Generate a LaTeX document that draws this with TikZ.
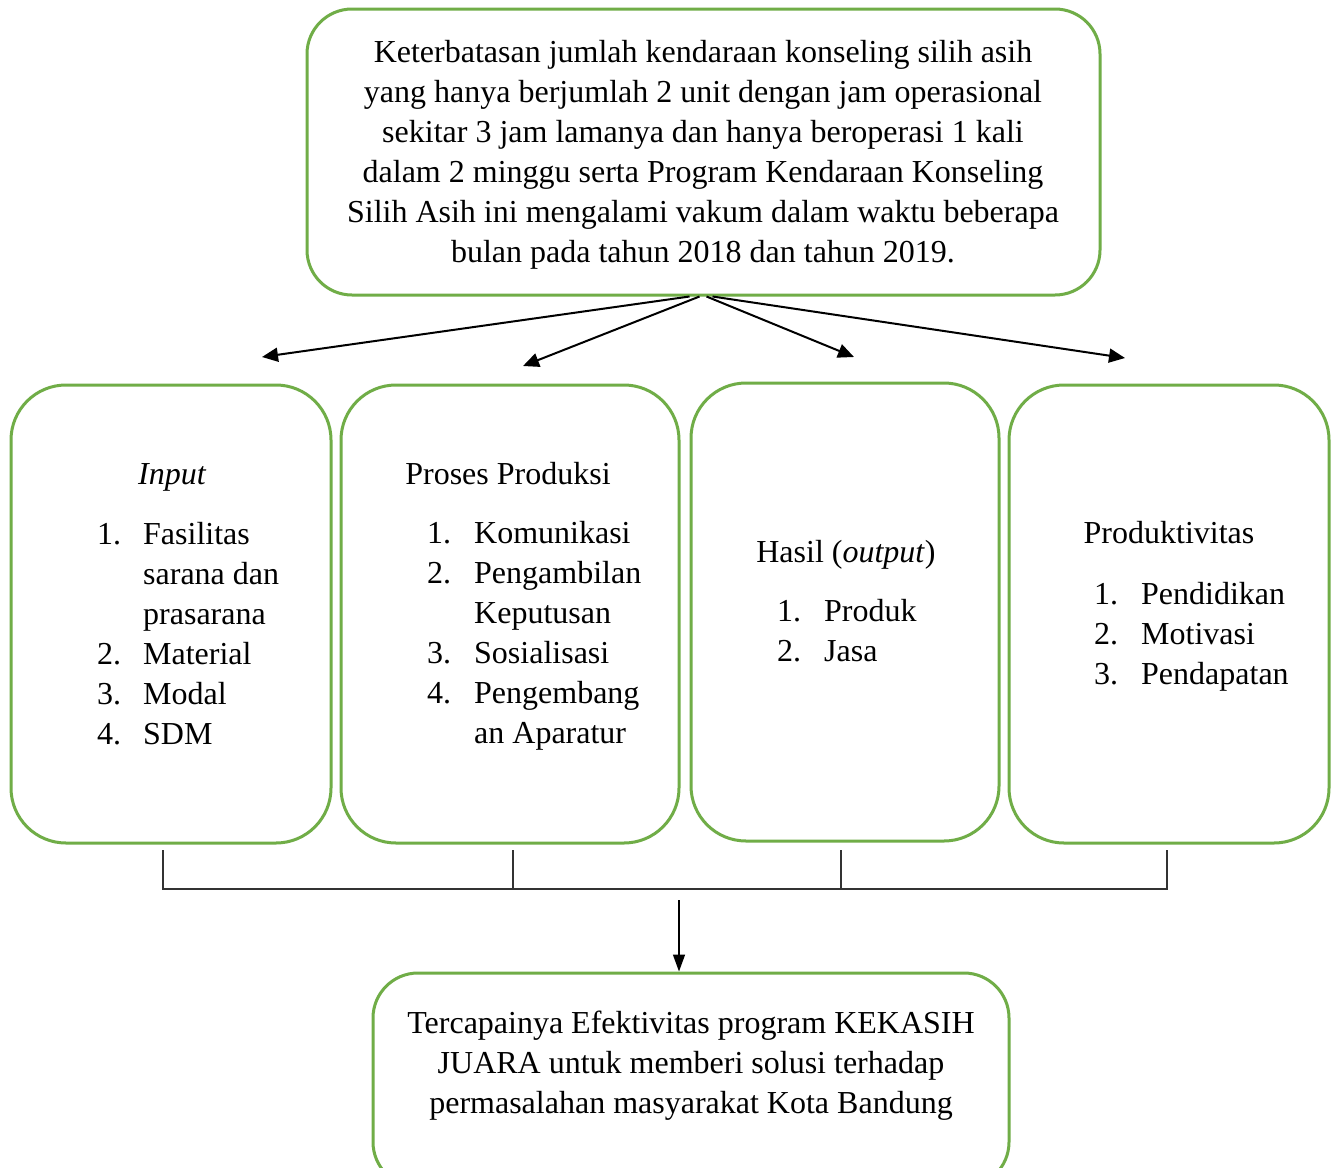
\documentclass[tikz,border=0pt]{standalone}
\usepackage{fontspec}
\setmainfont{Liberation Serif}
\usetikzlibrary{arrows.meta,calc}
\definecolor{grn}{HTML}{70AD47}
\begin{document}
\begin{tikzpicture}[x=1pt,y=-1pt,
  box/.style={draw=grn, line width=3pt, rounded corners=#1, inner sep=0pt},
  txt/.style={inner sep=0pt, font=\fontsize{32}{40}\selectfont},
  arr/.style={line width=2pt, -{Triangle[length=16pt,width=14pt]}},
  brk/.style={line width=1.2pt, draw=black!80},
  darr/.style={line width=1.5pt, -{Triangle[length=17pt,width=12pt]}}]
\useasboundingbox (0,0) rectangle (1335,1167);
\clip (0,0) rectangle (1335,1167);
\fill[white] (0,0) rectangle (1335,1167);

% boxes
\node[box=45pt, minimum width=793pt, minimum height=286pt] (top) at (703.5,152) {};
\node[box=55pt, minimum width=320pt, minimum height=458pt] (in) at (171,614) {};
\node[box=55pt, minimum width=338pt, minimum height=458pt] (pr) at (510,614) {};
\node[box=55pt, minimum width=308pt, minimum height=458pt] (ha) at (845,612) {};
\node[box=55pt, minimum width=320pt, minimum height=458pt] (pd) at (1169,614) {};
\node[box=45pt, minimum width=636pt, minimum height=214pt] (bot) at (691,1080) {};

% top text
\node[txt, align=center] (toptext) at (703,155) {Keterbatasan jumlah kendaraan konseling silih asih\\
yang hanya berjumlah 2 unit dengan jam operasional\\
sekitar 3 jam lamanya dan hanya beroperasi 1 kali\\
dalam 2 minggu serta Program Kendaraan Konseling\\
Silih Asih ini mengalami vakum dalam waktu beberapa\\
bulan pada tahun 2018 dan tahun 2019.};

% headings
\node[txt, anchor=base] (inh) at (172,484) {\itshape Input};
\node[txt, anchor=base] (prh) at (508,484) {Proses Produksi};
\node[txt, anchor=base] (hah) at (846,562) {Hasil (\textit{output})};
\node[txt, anchor=base] (pdh) at (1169,543) {Produktivitas};

% lists
\node[txt, anchor=base west] (inl) at (97,544) {\begin{tabular}[t]{@{}p{46pt}@{}l@{}}
1. & Fasilitas\\ & sarana dan\\ & prasarana\\ 2. & Material\\ 3. & Modal\\ 4. & SDM\end{tabular}};
\node[txt, anchor=base west] (prl) at (427,543) {\begin{tabular}[t]{@{}p{47pt}@{}l@{}}
1. & Komunikasi\\ 2. & Pengambilan\\ & Keputusan\\ 3. & Sosialisasi\\ 4. & Pengembang\\ & an Aparatur\end{tabular}};
\node[txt, anchor=base west] (hal) at (777,621) {\begin{tabular}[t]{@{}p{47pt}@{}l@{}}
1. & Produk\\ 2. & Jasa\end{tabular}};
\node[txt, anchor=base west] (pdl) at (1094,604) {\begin{tabular}[t]{@{}p{47pt}@{}l@{}}
1. & Pendidikan\\ 2. & Motivasi\\ 3. & Pendapatan\end{tabular}};

% bottom text
\node[txt, align=center] (bottext) at (691,1066) {Tercapainya Efektivitas program KEKASIH\\
JUARA untuk memberi solusi terhadap\\
permasalahan masyarakat Kota Bandung};

% top arrows
\coordinate (e1) at (262,357);
\coordinate (e2) at (523,366);
\coordinate (e3) at (854,357);
\coordinate (e4) at (1125,358);
\draw[arr] ([xshift=-14pt]top.south) -- (e1);
\draw[arr] ([xshift=-4pt]top.south) -- (e2);
\draw[arr] ([xshift=3pt]top.south) -- (e3);
\draw[arr] ([xshift=9pt]top.south) -- (e4);

% bracket
\coordinate (b1) at (163,850);
\coordinate (b2) at (513,850);
\coordinate (b3) at (841,850);
\coordinate (b4) at (1167,850);
\coordinate (h1) at (163,889);
\coordinate (h4) at (1167,889);
\draw[brk] (b1) -- (h1) -- (h4) -- (b4);
\draw[brk] (b2) -- (b2 |- h1);
\draw[brk] (b3) -- (b3 |- h1);
\coordinate (m) at (679,900);
\draw[darr] (m) -- (m |- bot.north);
\end{tikzpicture}
\end{document}
